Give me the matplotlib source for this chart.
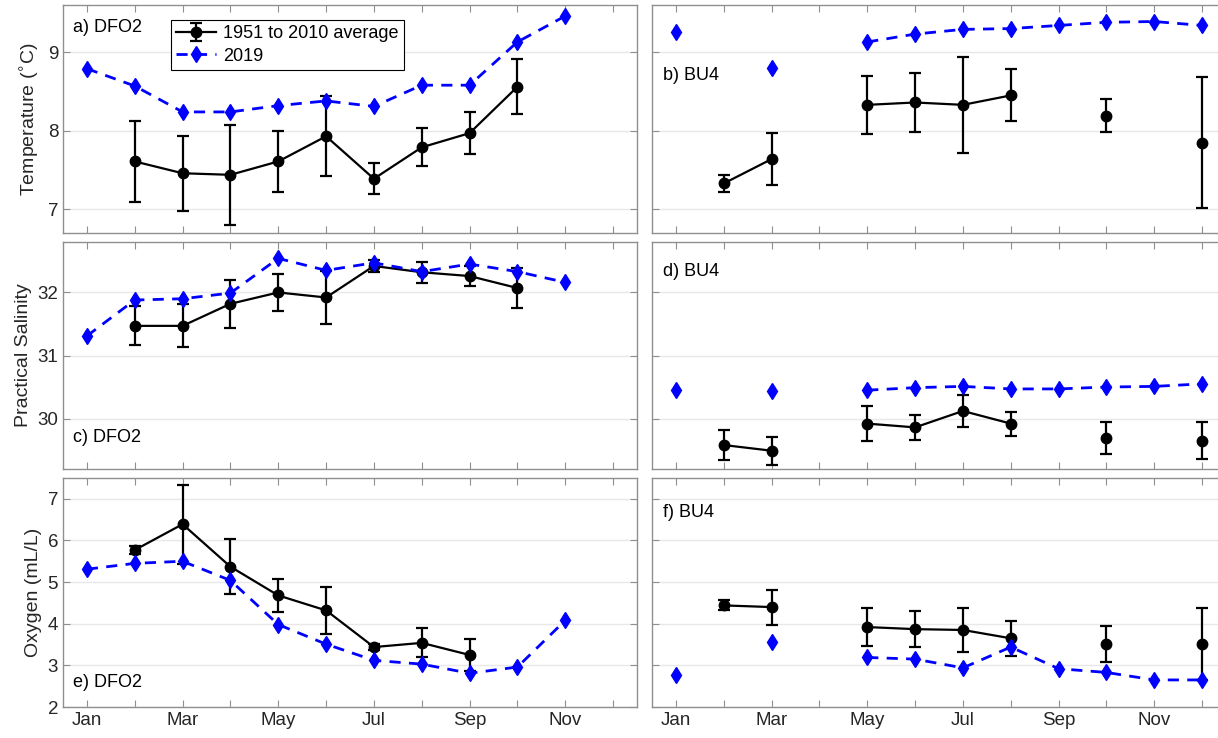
import numpy as np
import matplotlib
matplotlib.use('Agg')
import matplotlib.pyplot as plt

plt.rcParams['font.family'] = ['Liberation Sans', 'DejaVu Sans']

# months 1..12, nan = no data
months = np.arange(1, 13)
month_labels = ['Jan', '', 'Mar', '', 'May', '', 'Jul', '', 'Sep', '', 'Nov', '']

# temperature
dfo2_temp_avg = [np.nan, 7.61, 7.46, 7.44, 7.61, 7.93, 7.39, 7.79, 7.97, 8.56, np.nan, np.nan]
dfo2_temp_std = [np.nan, 0.51, 0.48, 0.64, 0.39, 0.51, 0.20, 0.24, 0.27, 0.35, np.nan, np.nan]
dfo2_temp_2019 = [8.79, 8.57, 8.24, 8.24, 8.32, 8.38, 8.31, 8.58, 8.58, 9.13, 9.46, np.nan]
bu4_temp_avg = [np.nan, 7.33, 7.64, np.nan, 8.33, 8.36, 8.33, 8.45, np.nan, 8.19, np.nan, 7.85]
bu4_temp_std = [np.nan, 0.11, 0.33, np.nan, 0.37, 0.37, 0.61, 0.33, np.nan, 0.21, np.nan, 0.83]
bu4_temp_2019 = [9.26, np.nan, 8.80, np.nan, 9.13, 9.23, 9.29, 9.30, 9.34, 9.38, 9.39, 9.34]

# salinity
dfo2_sal_avg = [np.nan, 31.47, 31.47, 31.82, 32.00, 31.92, 32.42, 32.32, 32.26, 32.07, np.nan, np.nan]
dfo2_sal_std = [np.nan, 0.31, 0.34, 0.38, 0.30, 0.42, 0.10, 0.17, 0.16, 0.32, np.nan, np.nan]
dfo2_sal_2019 = [31.31, 31.88, 31.90, 31.99, 32.54, 32.35, 32.47, 32.33, 32.45, 32.33, 32.16, np.nan]
bu4_sal_avg = [np.nan, 29.58, 29.49, np.nan, 29.92, 29.86, 30.12, 29.92, np.nan, 29.69, np.nan, 29.65]
bu4_sal_std = [np.nan, 0.24, 0.22, np.nan, 0.28, 0.20, 0.25, 0.19, np.nan, 0.26, np.nan, 0.29]
bu4_sal_2019 = [30.45, np.nan, 30.43, np.nan, 30.45, 30.49, 30.51, 30.47, 30.47, 30.50, 30.51, 30.55]

# oxygen
dfo2_oxy_avg = [np.nan, 5.77, 6.39, 5.37, 4.68, 4.32, 3.44, 3.54, 3.25, np.nan, np.nan, np.nan]
dfo2_oxy_std = [np.nan, 0.10, 0.95, 0.66, 0.40, 0.56, 0.07, 0.35, 0.39, np.nan, np.nan, np.nan]
dfo2_oxy_2019 = [5.31, 5.45, 5.50, 5.04, 3.98, 3.51, 3.12, 3.03, 2.81, 2.96, 4.08, np.nan]
bu4_oxy_avg = [np.nan, 4.44, 4.40, np.nan, 3.92, 3.87, 3.85, 3.65, np.nan, 3.52, np.nan, 3.52]
bu4_oxy_std = [np.nan, 0.12, 0.42, np.nan, 0.46, 0.44, 0.53, 0.42, np.nan, 0.43, np.nan, 0.86]
bu4_oxy_2019 = [2.78, np.nan, 3.56, np.nan, 3.19, 3.15, 2.94, 3.44, 2.92, 2.83, 2.65, 2.65]

panels = [
    # (avg, std, 2019, label, label x, label y)
    [(dfo2_temp_avg, dfo2_temp_std, dfo2_temp_2019, 'a) DFO2', 0.017, 0.90),
     (bu4_temp_avg, bu4_temp_std, bu4_temp_2019, 'b) BU4', 0.02, 0.69)],
    [(dfo2_sal_avg, dfo2_sal_std, dfo2_sal_2019, 'c) DFO2', 0.017, 0.14),
     (bu4_sal_avg, bu4_sal_std, bu4_sal_2019, 'd) BU4', 0.02, 0.87)],
    [(dfo2_oxy_avg, dfo2_oxy_std, dfo2_oxy_2019, 'e) DFO2', 0.017, 0.105),
     (bu4_oxy_avg, bu4_oxy_std, bu4_oxy_2019, 'f) BU4', 0.02, 0.85)],
]
ylabels = ['Temperature ($^{\\circ}$C)', 'Practical Salinity', 'Oxygen (mL/L)']
ylims = [(6.7, 9.6), (29.2, 32.8), (2, 7.5)]
yticks = [[7, 8, 9], [30, 31, 32], [2, 3, 4, 5, 6, 7]]

W, H = 1218, 738
fig = plt.figure(figsize=(W / 100, H / 100), dpi=100)
lefts = [63, 652]
width = 574
rows = [(5, 233), (242, 469), (478, 707)]

edge = '#8f8f8f'
txt = '#262626'

for r in range(3):
    top, bot = rows[r]
    for c in range(2):
        avg, std, y19, lab, lx, ly = panels[r][c]
        ax = fig.add_axes([lefts[c] / W, (H - bot) / H, width / W, (bot - top) / H])
        eb = ax.errorbar(months, avg, yerr=std, color='k', marker='o', markersize=7.5,
                         linewidth=1.6, capsize=4, capthick=1.6, elinewidth=1.6,
                         label='1951 to 2010 average', zorder=3)
        ln, = ax.plot(months, y19, color='b', linestyle='--', dashes=(4, 3), marker='d',
                      markersize=8.5, linewidth=2, label='2019', zorder=4)
        ax.set_xlim(0.5, 12.5)
        ax.set_ylim(*ylims[r])
        ax.set_yticks(yticks[r])
        ax.set_xticks(months)
        ax.grid(axis='y', color='#e8e8e8', linewidth=1)
        ax.set_axisbelow(True)
        ax.tick_params(direction='in', top=True, right=True, length=5,
                       color=edge, labelcolor=txt, labelsize=13.5)
        for s in ax.spines.values():
            s.set_color(edge)
            s.set_linewidth(1)
        if r == 2:
            ax.set_xticklabels(month_labels)
        else:
            ax.set_xticklabels([])
        if c == 0:
            ax.set_ylabel(ylabels[r], fontsize=14, color=txt)
        else:
            ax.set_yticklabels([])
        ax.text(lx, ly, lab, transform=ax.transAxes, fontsize=13, color='k',
                va='center', ha='left')
        if r == 0 and c == 0:
            leg = ax.legend([eb, ln], ['1951 to 2010 average', '2019'],
                            loc='upper left', bbox_to_anchor=(0.172, 0.975),
                            fontsize=13, fancybox=False, framealpha=1,
                            edgecolor='k', borderpad=0.3, handlelength=2.2,
                            handletextpad=0.4, labelspacing=0.3)
            leg.get_frame().set_linewidth(0.8)

fig.savefig('out.png', dpi=100)
